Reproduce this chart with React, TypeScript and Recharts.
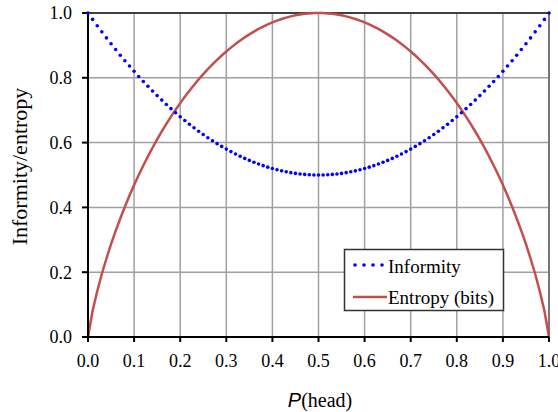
import { LineChart, Line, XAxis, YAxis, CartesianGrid, ReferenceLine } from 'recharts';

// P(head), 0.00 .. 1.00
const pValues = [
    0.00, 0.01, 0.02, 0.03, 0.04, 0.05, 0.06, 0.07, 0.08, 0.09,
    0.10, 0.11, 0.12, 0.13, 0.14, 0.15, 0.16, 0.17, 0.18, 0.19,
    0.20, 0.21, 0.22, 0.23, 0.24, 0.25, 0.26, 0.27, 0.28, 0.29,
    0.30, 0.31, 0.32, 0.33, 0.34, 0.35, 0.36, 0.37, 0.38, 0.39,
    0.40, 0.41, 0.42, 0.43, 0.44, 0.45, 0.46, 0.47, 0.48, 0.49,
    0.50,
    0.51, 0.52, 0.53, 0.54, 0.55, 0.56, 0.57, 0.58, 0.59, 0.60,
    0.61, 0.62, 0.63, 0.64, 0.65, 0.66, 0.67, 0.68, 0.69, 0.70,
    0.71, 0.72, 0.73, 0.74, 0.75, 0.76, 0.77, 0.78, 0.79, 0.80,
    0.81, 0.82, 0.83, 0.84, 0.85, 0.86, 0.87, 0.88, 0.89, 0.90,
    0.91, 0.92, 0.93, 0.94, 0.95, 0.96, 0.97, 0.98, 0.99, 1.00,
];

const informity = [
    1.0000, 0.9802, 0.9608, 0.9418, 0.9232, 0.9050, 0.8872, 0.8698, 0.8528, 0.8362,
    0.8200, 0.8042, 0.7888, 0.7738, 0.7592, 0.7450, 0.7312, 0.7178, 0.7048, 0.6922,
    0.6800, 0.6682, 0.6568, 0.6458, 0.6352, 0.6250, 0.6152, 0.6058, 0.5968, 0.5882,
    0.5800, 0.5722, 0.5648, 0.5578, 0.5512, 0.5450, 0.5392, 0.5338, 0.5288, 0.5242,
    0.5200, 0.5162, 0.5128, 0.5098, 0.5072, 0.5050, 0.5032, 0.5018, 0.5008, 0.5002,
    0.5000,
    0.5002, 0.5008, 0.5018, 0.5032, 0.5050, 0.5072, 0.5098, 0.5128, 0.5162, 0.5200,
    0.5242, 0.5288, 0.5338, 0.5392, 0.5450, 0.5512, 0.5578, 0.5648, 0.5722, 0.5800,
    0.5882, 0.5968, 0.6058, 0.6152, 0.6250, 0.6352, 0.6458, 0.6568, 0.6682, 0.6800,
    0.6922, 0.7048, 0.7178, 0.7312, 0.7450, 0.7592, 0.7738, 0.7888, 0.8042, 0.8200,
    0.8362, 0.8528, 0.8698, 0.8872, 0.9050, 0.9232, 0.9418, 0.9608, 0.9802, 1.0000,
];

const entropy = [
    0.0000, 0.0808, 0.1414, 0.1944, 0.2423, 0.2864, 0.3274, 0.3659, 0.4022, 0.4365,
    0.4690, 0.4999, 0.5294, 0.5574, 0.5842, 0.6098, 0.6343, 0.6577, 0.6801, 0.7015,
    0.7219, 0.7415, 0.7602, 0.7780, 0.7950, 0.8113, 0.8267, 0.8415, 0.8555, 0.8687,
    0.8813, 0.8932, 0.9044, 0.9149, 0.9248, 0.9341, 0.9427, 0.9507, 0.9580, 0.9648,
    0.9710, 0.9765, 0.9815, 0.9858, 0.9896, 0.9928, 0.9954, 0.9974, 0.9988, 0.9997,
    1.0000,
    0.9997, 0.9988, 0.9974, 0.9954, 0.9928, 0.9896, 0.9858, 0.9815, 0.9765, 0.9710,
    0.9648, 0.9580, 0.9507, 0.9427, 0.9341, 0.9248, 0.9149, 0.9044, 0.8932, 0.8813,
    0.8687, 0.8555, 0.8415, 0.8267, 0.8113, 0.7950, 0.7780, 0.7602, 0.7415, 0.7219,
    0.7015, 0.6801, 0.6577, 0.6343, 0.6098, 0.5842, 0.5574, 0.5294, 0.4999, 0.4690,
    0.4365, 0.4022, 0.3659, 0.3274, 0.2864, 0.2423, 0.1944, 0.1414, 0.0808, 0.0000,
];

const xTicks = [0, 0.1, 0.2, 0.3, 0.4, 0.5, 0.6, 0.7, 0.8, 0.9, 1.0];
const yTicks = [0, 0.2, 0.4, 0.6, 0.8, 1.0];
const seriesNames = ['Informity', 'Entropy (bits)'];

const SERIF = '"Liberation Serif", "Times New Roman", serif';
const BLUE = '#0000ff';
const RED = '#c0504d';

export default function App() {
    const data = pValues.map((p, i) => ({ p, informity: informity[i], entropy: entropy[i] }));
    const tickStyle = { fontFamily: SERIF, fontSize: 18, fill: '#000' };

    return (
        <div style={{ position: 'absolute', left: 0, top: 0, width: 558, height: 412, background: '#fff' }}>
            <LineChart width={558} height={412} data={data} margin={{ top: 13, right: 9, left: 0, bottom: 0 }}>
                <CartesianGrid stroke="#a0a0a0" strokeWidth={1.5} />
                <XAxis
                    dataKey="p"
                    type="number"
                    domain={[0, 1]}
                    ticks={xTicks}
                    tickFormatter={(v: number) => v.toFixed(1)}
                    tick={tickStyle}
                    tickSize={5}
                    tickMargin={12}
                    height={75}
                    stroke="#000"
                    strokeWidth={2}
                    interval={0}
                />
                <YAxis
                    type="number"
                    domain={[0, 1]}
                    ticks={yTicks}
                    tickFormatter={(v: number) => v.toFixed(1)}
                    tick={tickStyle}
                    tickSize={6}
                    tickMargin={10}
                    width={88}
                    stroke="#000"
                    strokeWidth={2}
                    interval={0}
                />
                <ReferenceLine y={1} stroke="#404040" strokeWidth={2} />
                <ReferenceLine x={1} stroke="#606060" strokeWidth={1.5} />
                <Line
                    dataKey="entropy"
                    name={seriesNames[1]}
                    type="linear"
                    stroke={RED}
                    strokeWidth={2.5}
                    dot={false}
                    isAnimationActive={false}
                />
                <Line
                    dataKey="informity"
                    name={seriesNames[0]}
                    type="linear"
                    stroke="none"
                    dot={{ r: 1.8, fill: BLUE, stroke: 'none' }}
                    isAnimationActive={false}
                />
            </LineChart>
            <svg
                width={558}
                height={412}
                style={{ position: 'absolute', left: 0, top: 0, pointerEvents: 'none' }}
            >
                {/* boxed legend over the plot */}
                <rect x={344.5} y={249.5} width={159} height={61} fill="#fff" stroke="#333" strokeWidth={1.5} />
                {[355, 364, 373, 382].map((cx) => (
                    <circle key={cx} cx={cx} cy={265} r={1.8} fill={BLUE} />
                ))}
                <text x={388} y={273} fontFamily={SERIF} fontSize={19} fill="#000">
                    {seriesNames[0]}
                </text>
                <line x1={353} y1={297} x2={387} y2={297} stroke={RED} strokeWidth={2.5} />
                <text x={388} y={304} fontFamily={SERIF} fontSize={19} fill="#000">
                    {seriesNames[1]}
                </text>

                <text
                    x={27}
                    y={166.5}
                    transform="rotate(-90 27 166.5)"
                    textAnchor="middle"
                    fontFamily={SERIF}
                    fontSize={22}
                    fill="#000"
                >
                    Informity/entropy
                </text>
                <text x={320} y={407} textAnchor="middle" fontSize={20} fill="#000">
                    <tspan fontFamily='"Liberation Sans", Arial, sans-serif' fontStyle="italic">P</tspan>
                    <tspan fontFamily={SERIF}>(head)</tspan>
                </text>
            </svg>
        </div>
    );
}
